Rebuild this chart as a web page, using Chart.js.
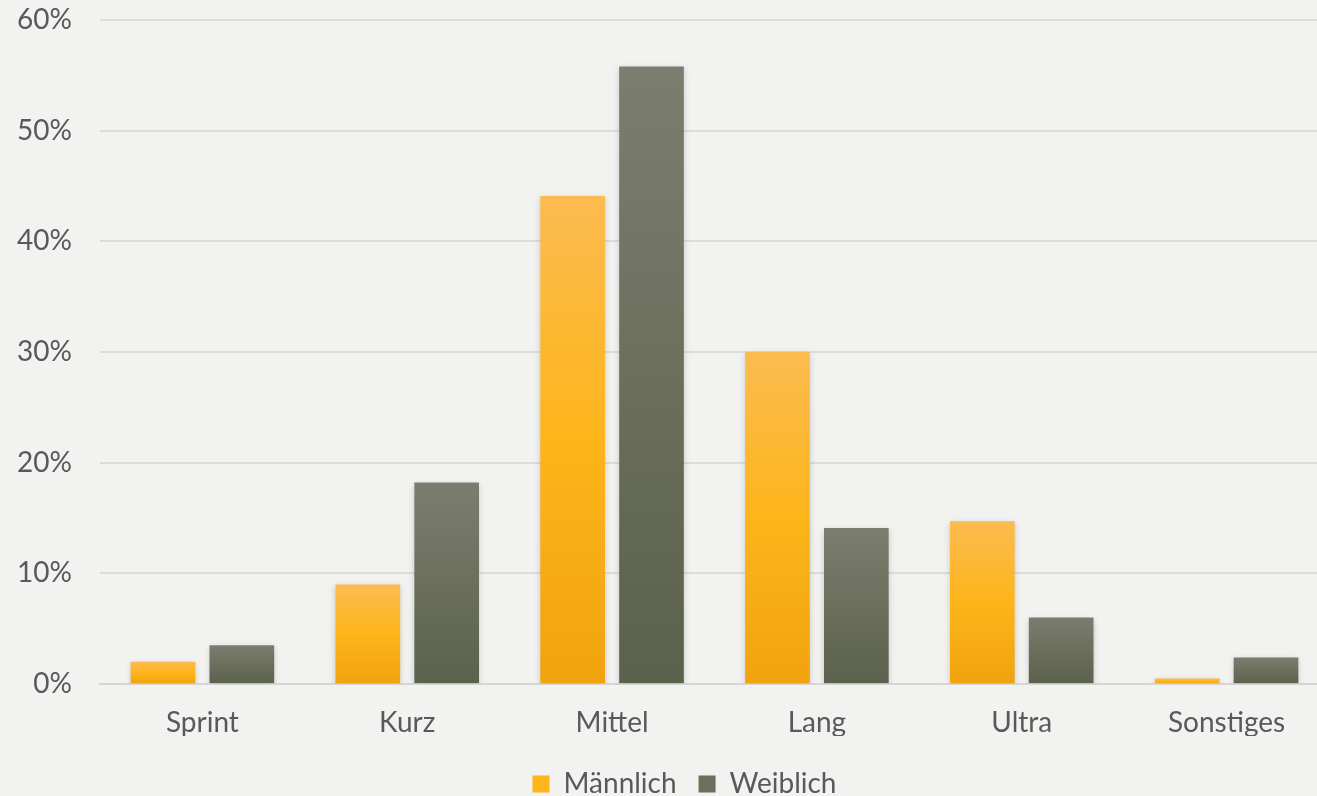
<!DOCTYPE html>
<html><head><meta charset="utf-8">
<script src="https://cdn.jsdelivr.net/npm/chart.js@4/dist/chart.umd.min.js"></script>
<style>html,body{margin:0;padding:0;background:#F2F2F0;overflow:hidden;}#wrap{width:1317px;height:796px;overflow:hidden;}</style>
</head><body><div id="wrap"><canvas id="c" width="1329" height="796"></canvas></div>
<script>
const categories = ["Sprint","Kurz","Mittel","Lang","Ultra","Sonstiges"];
const maennlich = [2.0, 9.0, 44.1, 30.0, 14.7, 0.5];
const weiblich = [3.5, 18.2, 55.8, 14.1, 6.0, 2.4];
const yTicks = [0,10,20,30,40,50,60];

function barGradient(stops){
  return function(ctx){
    const chart = ctx.chart;
    if(ctx.type !== 'data' || !chart.scales.y) return stops[1];
    const y = chart.scales.y;
    const top = y.getPixelForValue(ctx.raw);
    const bot = y.getPixelForValue(0);
    if(!isFinite(top) || !isFinite(bot) || top===bot) return stops[1];
    const g = chart.ctx.createLinearGradient(0, top, 0, bot);
    g.addColorStop(0, stops[0]);
    g.addColorStop(0.5, stops[1]);
    g.addColorStop(1, stops[2]);
    return g;
  };
}
const orange = ['#FCBB50','#FDB51A','#F0A30E'];
const grey = ['#7B7E6E','#6B6F5C','#5A614C'];

const shadowPlugin = {
  id:'shadow',
  beforeDatasetsDraw(chart){ const c=chart.ctx; c.save(); c.shadowColor='rgba(0,0,0,0.18)'; c.shadowBlur=6; c.shadowOffsetX=0; c.shadowOffsetY=2; },
  afterDatasetsDraw(chart){ chart.ctx.restore(); }
};
const bgPlugin = {
  id:'bg',
  beforeDraw(chart){ const c=chart.ctx; c.save(); c.fillStyle='#F2F2F0'; c.fillRect(0,0,chart.width,chart.height); c.restore(); }
};
const legendShift = {
  id:'legendShift',
  afterLayout(chart){ const l=chart.legend; if(l){ l.left+=20; l.right+=20; l.top+=12; l.bottom+=12; } }
};

new Chart(document.getElementById('c'), {
  type:'bar',
  data:{
    labels:categories,
    datasets:[
      {label:'Männlich', data:maennlich, backgroundColor:barGradient(orange), borderWidth:0},
      {label:'Weiblich', data:weiblich, backgroundColor:barGradient(grey), borderWidth:0}
    ]
  },
  options:{
    responsive:false, animation:false,
    layout:{padding:{top:20,right:0,bottom:0,left:0}},
    datasets:{bar:{categoryPercentage:0.77, barPercentage:0.82}},
    scales:{
      x:{
        grid:{display:false, drawTicks:false},
        border:{display:true, color:'#D6D6D4', width:2},
        ticks:{color:'#595959', font:{family:'Lato', size:28}, padding:22},
        afterFit(s){ s.height = 52; }
      },
      y:{
        min:0, max:60,
        afterBuildTicks(s){ s.ticks = yTicks.map(v=>({value:v})); },
        grid:{color:'#DCDCDA', lineWidth:2, drawTicks:false},
        border:{display:false},
        ticks:{color:'#595959', font:{family:'Lato', size:28}, padding:28, callback:v=>v+'%'},
        afterFit(s){ s.width = 100; s.paddingTop = 0; s.paddingBottom = 0; }
      }
    },
    plugins:{
      tooltip:{enabled:false},
      legend:{
        position:'bottom',
        labels:{
          color:'#595959', font:{family:'Lato', size:28},
          boxWidth:17, boxHeight:17, padding:22,
          generateLabels(chart){
            const cols=['#FDB51A','#6B6F5C'];
            return chart.data.datasets.map((d,i)=>({text:d.label, fillStyle:cols[i], strokeStyle:cols[i], lineWidth:0, datasetIndex:i, fontColor:'#595959'}));
          }
        }
      }
    }
  },
  plugins:[bgPlugin, shadowPlugin, legendShift]
});
</script></body></html>
